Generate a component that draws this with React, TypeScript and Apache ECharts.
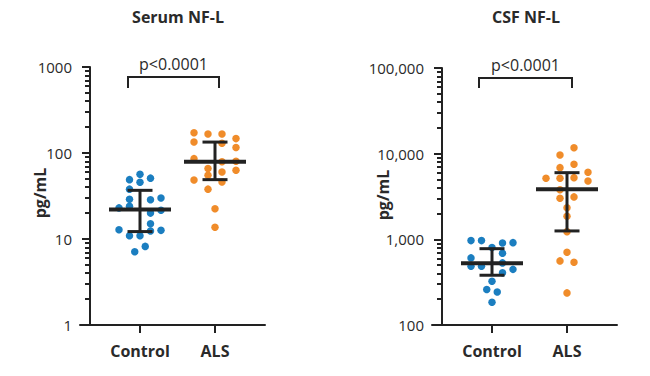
import React, { useEffect, useRef } from "react";
import * as echarts from "echarts";

// ---- data ----
const GROUPS = ["Control", "ALS"];
const GROUP_X = [2, 5];

const serumControl = [56.5, 49, 51, 45.6, 38, 29, 28.6, 30, 23, 24, 20, 21.6, 15, 12.8, 10.9, 10.9, 12.4, 12.6, 8.2, 7.1];
const serumControlJitter = [0, -0.42, 0.42, 0, -0.42, -0.42, 0.42, 0.84, -0.84, -0.42, 0.42, 0.84, 0.42, -0.84, -0.42, 0, 0.42, 0.84, 0.21, -0.21];
const serumALS = [172, 166, 166, 147, 134, 130, 116, 86, 79, 80, 66, 60, 63, 55, 48.5, 46, 38, 22.5, 13.7];
const serumALSJitter = [-0.84, -0.28, 0.28, 0.84, -0.84, 0.28, 0.84, -0.84, 0.28, 0.84, -0.28, 0.28, 0.84, -0.28, -0.84, 0.28, -0.28, 0, 0];

const csfControl = [966, 966, 908, 915, 804, 689, 607, 485, 485, 531, 446, 406, 324, 260, 243, 184];
const csfControlJitter = [-0.84, -0.42, 0.42, 0.84, 0, 0.42, -0.84, -0.84, -0.42, 0.42, 0.84, 0.42, 0, -0.21, 0.21, 0];
const csfALS = [11750, 9660, 7520, 6870, 5170, 5170, 5250, 6070, 4800, 3800, 3020, 3130, 2340, 1860, 1230, 708, 560, 541, 237];
const csfALSJitter = [0.28, -0.28, 0.28, -0.28, -0.84, -0.28, 0.28, 0.84, 0.84, -0.28, -0.28, 0.28, 0, 0, 0, 0, -0.28, 0.28, 0];

// median, lower, upper (Control, ALS)
const serumMedian = [22.1, 79];
const serumLow = [12.2, 49];
const serumHigh = [36.8, 134];
const csfMedian = [527, 3850];
const csfLow = [381, 1253];
const csfHigh = [778, 6000];

const titles = ["Serum NF-L", "CSF NF-L"];
const pValueText = "p<0.0001";
const yName = "pg/mL";
const serumTicks = [1, 10, 100, 1000];
const csfTicks = [100, 1000, 10000, 100000];
// bracket: x-left, x-right, y-top, y-bottom
const serumBracket = [1.52, 5.16, 765, 570];
const csfBracket = [1.48, 5.2, 76500, 58400];

const FONT = '"Open Sans", "Noto Sans", sans-serif';
const BLUE = "#1b7ec0";
const ORANGE = "#f08c2a";
const INK = "#222";
const TEXT = "#2a2a2a";

function minorTicks(lo: number, hi: number) {
  const out: number[] = [];
  for (let d = lo; d < hi; d *= 10) {
    for (let k = 2; k <= 9; k++) out.push(d * k);
  }
  return out;
}

function summaryRender(params: any, api: any) {
  const x = api.value(0);
  const med = api.value(1);
  const lo = api.value(2);
  const hi = api.value(3);
  const mL = api.coord([x - 1.24, med]);
  const mR = api.coord([x + 1.24, med]);
  const top = api.coord([x, hi]);
  const bot = api.coord([x, lo]);
  const tL = api.coord([x - 0.5, hi]);
  const tR = api.coord([x + 0.5, hi]);
  const bL = api.coord([x - 0.5, lo]);
  const bR = api.coord([x + 0.5, lo]);
  const st = { stroke: INK, lineWidth: 3 };
  return {
    type: "group",
    children: [
      { type: "line", shape: { x1: top[0], y1: top[1], x2: bot[0], y2: bot[1] }, style: st },
      { type: "line", shape: { x1: tL[0], y1: tL[1], x2: tR[0], y2: tR[1] }, style: st },
      { type: "line", shape: { x1: bL[0], y1: bL[1], x2: bR[0], y2: bR[1] }, style: st },
      { type: "line", shape: { x1: mL[0], y1: mL[1], x2: mR[0], y2: mR[1] }, style: { stroke: INK, lineWidth: 4 } },
    ],
  };
}

function bracketRender(params: any, api: any) {
  const x1 = api.value(0);
  const x2 = api.value(1);
  const yt = api.value(2);
  const yb = api.value(3);
  const a = api.coord([x1, yb]);
  const b = api.coord([x1, yt]);
  const c = api.coord([x2, yt]);
  const d = api.coord([x2, yb]);
  return {
    type: "group",
    children: [
      {
        type: "polyline",
        shape: { points: [a, b, c, d] },
        style: { stroke: INK, lineWidth: 2, fill: null },
      },
      {
        type: "text",
        style: {
          text: pValueText,
          x: (b[0] + c[0]) / 2,
          y: b[1] - 5,
          textAlign: "center",
          textVerticalAlign: "bottom",
          align: "center",
          verticalAlign: "bottom",
          fontSize: 16,
          fontFamily: FONT,
          fill: TEXT,
        },
      },
    ],
  };
}

function makePanel(idx: number, ticks: number[], fmt: (v: number) => string) {
  const axisLineStyle = { color: INK, width: 2 };
  const xAxis = {
    type: "value",
    gridIndex: idx,
    min: -0.4,
    max: 7,
    axisLine: { show: true, onZero: false, lineStyle: axisLineStyle },
    axisTick: { show: true, customValues: GROUP_X, length: 8, lineStyle: axisLineStyle },
    axisLabel: {
      customValues: GROUP_X,
      formatter: (v: number) => GROUPS[GROUP_X.indexOf(v)] ?? "",
      fontFamily: FONT,
      fontWeight: "bold",
      fontSize: 16,
      color: TEXT,
      margin: 18,
    },
    splitLine: { show: false },
  };
  const yMajor = {
    type: "log",
    logBase: 10,
    gridIndex: idx,
    position: "left",
    min: ticks[0],
    max: ticks[ticks.length - 1],
    offset: -10,
    axisLine: { show: true, onZero: false, lineStyle: axisLineStyle },
    axisTick: { show: true, customValues: ticks, length: 8, lineStyle: axisLineStyle },
    axisLabel: {
      customValues: ticks,
      formatter: (v: number) => fmt(v),
      fontFamily: FONT,
      fontSize: 15,
      color: TEXT,
      margin: 18,
    },
    splitLine: { show: false },
  };
  const yMinor = {
    type: "log",
    logBase: 10,
    gridIndex: idx,
    position: "left",
    min: ticks[0],
    max: ticks[ticks.length - 1],
    offset: -10,
    axisLine: { show: false, onZero: false },
    axisTick: { show: true, customValues: minorTicks(ticks[0], ticks[ticks.length - 1]), length: 5, lineStyle: axisLineStyle },
    axisLabel: { show: false },
    splitLine: { show: false },
  };
  return { xAxis, yAxes: [yMajor, yMinor] };
}

export default function App() {
  const ref = useRef<HTMLDivElement>(null);
  useEffect(() => {
    if (!ref.current) return;
    const chart = echarts.init(ref.current, null, { renderer: "svg" });
    const p0 = makePanel(0, serumTicks, (v) => String(v));
    const p1 = makePanel(1, csfTicks, (v) => v.toLocaleString("en-US"));

    const dots = (vals: number[], jit: number[], gx: number) => vals.map((v, i) => [gx + jit[i], v]);
    const summaryData = (med: number[], lo: number[], hi: number[]) =>
      GROUP_X.map((gx, i) => [gx, med[i], lo[i], hi[i]]);

    const scatter = (xi: number, yi: number, data: number[][], color: string) => ({
      type: "scatter",
      xAxisIndex: xi,
      yAxisIndex: yi,
      data,
      symbolSize: 7.5,
      itemStyle: { color, opacity: 1 },
      silent: true,
    });

    const txt = (text: string, x: number, y: number, rot = 0) => ({
      type: "text",
      x,
      y,
      rotation: rot,
      style: {
        text,
        textAlign: "center",
        textVerticalAlign: "middle",
        align: "center",
        verticalAlign: "middle",
        fontFamily: FONT,
        fontWeight: "bold",
        fontSize: 16,
        fill: TEXT,
      },
    });

    const option: any = {
      animation: false,
      backgroundColor: "#fff",
      grid: [
        { left: 80, top: 67, width: 185, height: 258 },
        { left: 432, top: 68, width: 185, height: 257 },
      ],
      xAxis: [p0.xAxis, p1.xAxis],
      yAxis: [...p0.yAxes, ...p1.yAxes],
      graphic: [
        txt(titles[0], 178, 17),
        txt(titles[1], 526, 17),
        txt(yName, 40, 193, Math.PI / 2),
        txt(yName, 383, 195, Math.PI / 2),
      ],
      series: [
        scatter(0, 0, dots(serumControl, serumControlJitter, GROUP_X[0]), BLUE),
        scatter(0, 0, dots(serumALS, serumALSJitter, GROUP_X[1]), ORANGE),
        scatter(1, 2, dots(csfControl, csfControlJitter, GROUP_X[0]), BLUE),
        scatter(1, 2, dots(csfALS, csfALSJitter, GROUP_X[1]), ORANGE),
        {
          type: "custom",
          xAxisIndex: 0,
          yAxisIndex: 0,
          renderItem: summaryRender,
          data: summaryData(serumMedian, serumLow, serumHigh),
          encode: { x: 0, y: [1, 2, 3] },
          silent: true,
          z: 5,
        },
        {
          type: "custom",
          xAxisIndex: 1,
          yAxisIndex: 2,
          renderItem: summaryRender,
          data: summaryData(csfMedian, csfLow, csfHigh),
          encode: { x: 0, y: [1, 2, 3] },
          silent: true,
          z: 5,
        },
        {
          type: "custom",
          xAxisIndex: 0,
          yAxisIndex: 0,
          renderItem: bracketRender,
          data: [serumBracket],
          encode: { x: [0, 1], y: [2, 3] },
          silent: true,
        },
        {
          type: "custom",
          xAxisIndex: 1,
          yAxisIndex: 2,
          renderItem: bracketRender,
          data: [csfBracket],
          encode: { x: [0, 1], y: [2, 3] },
          silent: true,
        },
      ],
    };
    chart.setOption(option);
    return () => chart.dispose();
  }, []);
  return (
    <div
      ref={ref}
      style={{ position: "absolute", left: 0, top: 0, width: 650, height: 376, background: "#fff" }}
    />
  );
}
